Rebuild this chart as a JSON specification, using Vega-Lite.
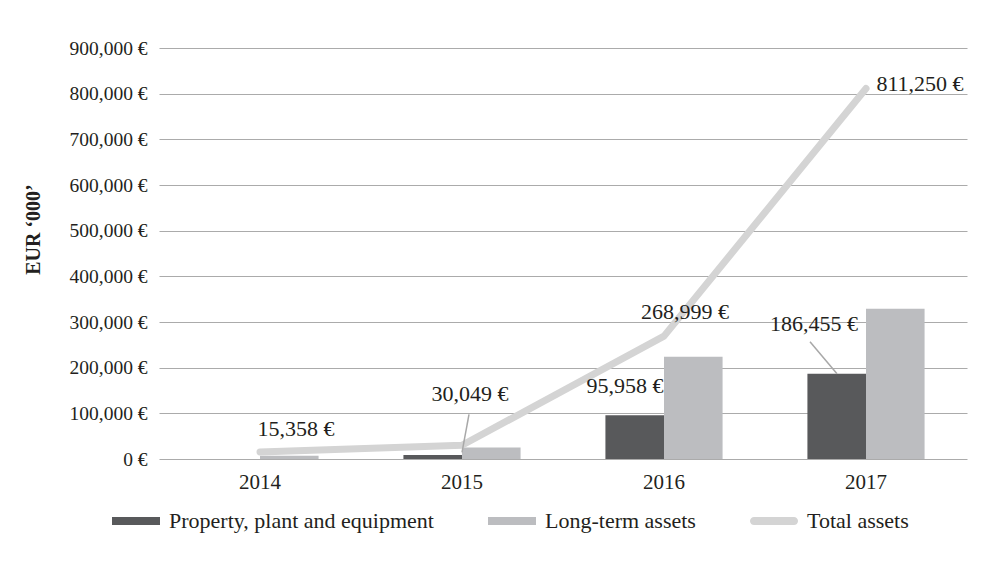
{
  "$schema": "https://vega.github.io/schema/vega-lite/v6.json",
  "width": 808,
  "height": 411,
  "autosize": {"type": "none"},
  "padding": {"left": 159, "top": 48, "right": 17, "bottom": 102},
  "background": "#ffffff",
  "config": {
    "font": "Liberation Serif",
    "view": {"stroke": null},
    "locale": {"number": {"decimal": ".", "thousands": ",", "grouping": [3], "currency": ["", " €"]}},
    "text": {"font": "Liberation Serif", "fontSize": 22, "color": "#231f20"}
  },
  "datasets": {
    "assets": [
      {"year": "2014", "series": "Property, plant and equipment", "value": 0},
      {"year": "2014", "series": "Long-term assets", "value": 7200},
      {"year": "2015", "series": "Property, plant and equipment", "value": 8800},
      {"year": "2015", "series": "Long-term assets", "value": 25400},
      {"year": "2016", "series": "Property, plant and equipment", "value": 95958},
      {"year": "2016", "series": "Long-term assets", "value": 224000},
      {"year": "2017", "series": "Property, plant and equipment", "value": 186455},
      {"year": "2017", "series": "Long-term assets", "value": 329000}
    ],
    "total": [
      {"year": "2014", "series": "Total assets", "value": 15358},
      {"year": "2015", "series": "Total assets", "value": 30049},
      {"year": "2016", "series": "Total assets", "value": 268999},
      {"year": "2017", "series": "Total assets", "value": 811250}
    ]
  },
  "encoding": {
    "x": {
      "field": "year",
      "type": "nominal",
      "sort": ["2014", "2015", "2016", "2017"],
      "scale": {"paddingInner": 0.42, "paddingOuter": 0.21},
      "axis": {
        "title": null,
        "labelAngle": 0,
        "labelFont": "Liberation Serif",
        "labelFontSize": 21,
        "labelColor": "#231f20",
        "labelPadding": 12,
        "ticks": false,
        "domain": false
      }
    },
    "y": {
      "field": "value",
      "type": "quantitative",
      "scale": {"domain": [0, 900000], "nice": false},
      "axis": {
        "title": "EUR ‘000’",
        "titleFont": "Liberation Serif",
        "titleFontSize": 20,
        "titleFontWeight": "bold",
        "titleColor": "#231f20",
        "titleAngle": 270,
        "titleAlign": "center",
        "titleBaseline": "middle",
        "titleX": -126,
        "titleY": 181,
        "values": [0, 100000, 200000, 300000, 400000, 500000, 600000, 700000, 800000, 900000],
        "format": "$,.0f",
        "labelFont": "Liberation Serif",
        "labelFontSize": 19.5,
        "labelColor": "#231f20",
        "labelPadding": 12,
        "ticks": false,
        "domain": false,
        "grid": true,
        "gridColor": "#ababab",
        "gridWidth": 1.2
      }
    }
  },
  "layer": [
    {
      "data": {"name": "assets"},
      "mark": {"type": "bar"},
      "encoding": {
        "xOffset": {"field": "series", "type": "nominal", "sort": ["Property, plant and equipment", "Long-term assets"], "scale": {"paddingInner": 0, "paddingOuter": 0}},
        "color": {
          "field": "series",
          "type": "nominal",
          "scale": {
            "domain": ["Property, plant and equipment", "Long-term assets", "Total assets"],
            "range": ["#58595b", "#bcbdc0", "#d4d4d4"]
          },
          "legend": {
            "title": null,
            "orient": "none",
            "direction": "horizontal",
            "legendX": -47,
            "legendY": 449,
            "labelFont": "Liberation Serif",
            "labelFontSize": 22,
            "labelColor": "#231f20",
            "labelOffset": 9,
            "labelLimit": 400,
            "columnPadding": 54,
            "symbolSize": 2304,
            "symbolStrokeWidth": 0,
            "symbolType": "M-1,-0.17H1V0.17H-1Z",
            "symbolOpacity": 1,
            "encode": {
              "symbols": {
                "update": {
                  "shape": {"signal": "datum.label === 'Total assets' ? 'M-0.83,-0.17H0.83A0.17,0.17 0 0 1 0.83,0.17H-0.83A0.17,0.17 0 0 1 -0.83,-0.17Z' : 'M-1,-0.17H1V0.17H-1Z'"}
                }
              }
            }
          }
        }
      }
    },
    {
      "data": {"name": "total"},
      "mark": {"type": "line", "color": "#d4d4d4", "strokeWidth": 7, "strokeCap": "round", "strokeJoin": "round"},
      "encoding": {}
    },
    {
      "data": {"name": "total"},
      "transform": [{"filter": "datum.year === '2015'"}],
      "mark": {"type": "rule", "color": "#a8a8a8", "strokeWidth": 1.5, "xOffset": 0, "x2Offset": 7, "yOffset": 7, "y2Offset": -31},
      "encoding": {
        "x2": {"field": "year"},
        "y2": {"field": "value"}
      }
    },
    {
      "data": {"name": "assets"},
      "transform": [{"filter": "datum.year === '2017' && datum.series === 'Property, plant and equipment'"}],
      "mark": {"type": "rule", "color": "#a8a8a8", "strokeWidth": 1.5, "xOffset": -29, "x2Offset": -56, "yOffset": 0, "y2Offset": -32},
      "encoding": {
        "x2": {"field": "year"},
        "y2": {"field": "value"}
      }
    },
    {
      "data": {"name": "total"},
      "transform": [{"filter": "datum.year === '2014'"}],
      "mark": {"type": "text", "dx": 36, "dy": -23},
      "encoding": {"text": {"field": "value", "type": "quantitative", "format": "$,"}}
    },
    {
      "data": {"name": "total"},
      "transform": [{"filter": "datum.year === '2015'"}],
      "mark": {"type": "text", "dx": 8, "dy": -51},
      "encoding": {"text": {"field": "value", "type": "quantitative", "format": "$,"}}
    },
    {
      "data": {"name": "total"},
      "transform": [{"filter": "datum.year === '2016'"}],
      "mark": {"type": "text", "dx": 21, "dy": -24},
      "encoding": {"text": {"field": "value", "type": "quantitative", "format": "$,"}}
    },
    {
      "data": {"name": "total"},
      "transform": [{"filter": "datum.year === '2017'"}],
      "mark": {"type": "text", "dx": 54, "dy": -5},
      "encoding": {"text": {"field": "value", "type": "quantitative", "format": "$,"}}
    },
    {
      "data": {"name": "assets"},
      "transform": [{"filter": "datum.year === '2016' && datum.series === 'Property, plant and equipment'"}],
      "mark": {"type": "text", "dx": -39, "dy": -29},
      "encoding": {"text": {"field": "value", "type": "quantitative", "format": "$,"}}
    },
    {
      "data": {"name": "assets"},
      "transform": [{"filter": "datum.year === '2017' && datum.series === 'Property, plant and equipment'"}],
      "mark": {"type": "text", "dx": -52, "dy": -50},
      "encoding": {"text": {"field": "value", "type": "quantitative", "format": "$,"}}
    }
  ]
}
